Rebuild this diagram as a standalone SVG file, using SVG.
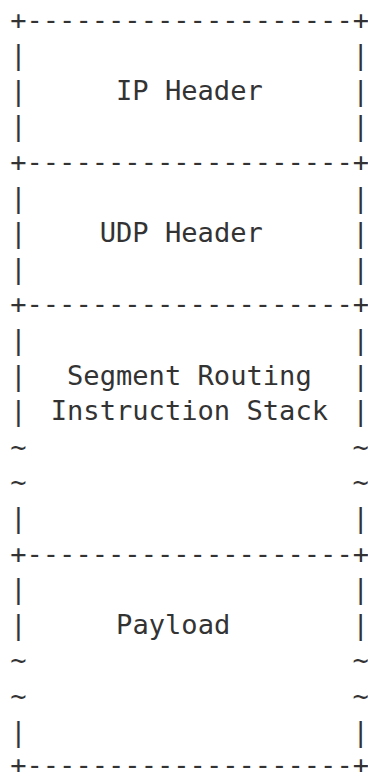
<svg xmlns="http://www.w3.org/2000/svg" width="368" height="772" viewBox="0 0 368 772">
<style>
.t{font-family:"DejaVu Sans Mono","Liberation Mono",monospace;font-size:27.1px;fill:#333}
.s{text-anchor:middle}
</style>
<rect width="368" height="772" fill="#fff"/>
<g id="borders">
<text class="t" x="10.15" y="28.5">+--------------------+</text>
<text class="t" x="10.15" y="170.9">+--------------------+</text>
<text class="t" x="10.15" y="313.3">+--------------------+</text>
<text class="t" x="10.15" y="562.5">+--------------------+</text>
<text class="t" x="10.15" y="774.3">+--------------------+</text>
</g>
<g id="ip-header">
<text class="t s" x="18.3" y="64.1">|</text><text class="t s" x="360.6" y="64.1">|</text>
<text class="t s" x="18.3" y="99.7">|</text><text class="t s" x="360.6" y="99.7">|</text>
<text class="t s" x="18.3" y="135.3">|</text><text class="t s" x="360.6" y="135.3">|</text>
<text class="t s" x="189.4" y="99.7">IP Header</text>
</g>
<g id="udp-header">
<text class="t s" x="18.3" y="206.5">|</text><text class="t s" x="360.6" y="206.5">|</text>
<text class="t s" x="18.3" y="242.1">|</text><text class="t s" x="360.6" y="242.1">|</text>
<text class="t s" x="18.3" y="277.7">|</text><text class="t s" x="360.6" y="277.7">|</text>
<text class="t s" x="181.3" y="242.1">UDP Header</text>
</g>
<g id="sr-instruction-stack">
<text class="t s" x="18.3" y="348.9">|</text><text class="t s" x="360.6" y="348.9">|</text>
<text class="t s" x="18.3" y="384.5">|</text><text class="t s" x="360.6" y="384.5">|</text>
<text class="t s" x="18.3" y="420.1">|</text><text class="t s" x="360.6" y="420.1">|</text>
<text class="t s" x="18.3" y="455.7">~</text><text class="t s" x="360.6" y="455.7">~</text>
<text class="t s" x="18.3" y="491.3">~</text><text class="t s" x="360.6" y="491.3">~</text>
<text class="t s" x="18.3" y="526.9">|</text><text class="t s" x="360.6" y="526.9">|</text>
<text class="t s" x="189.4" y="384.5">Segment Routing</text>
<text class="t s" x="189.4" y="420.1">Instruction Stack</text>
</g>
<g id="payload">
<text class="t s" x="18.3" y="598.1">|</text><text class="t s" x="360.6" y="598.1">|</text>
<text class="t s" x="18.3" y="633.7">|</text><text class="t s" x="360.6" y="633.7">|</text>
<text class="t s" x="18.3" y="669.3">~</text><text class="t s" x="360.6" y="669.3">~</text>
<text class="t s" x="18.3" y="704.9">~</text><text class="t s" x="360.6" y="704.9">~</text>
<text class="t s" x="18.3" y="740.5">|</text><text class="t s" x="360.6" y="740.5">|</text>
<text class="t s" x="173.2" y="633.7">Payload</text>
</g>
<g id="connectors"/>
</svg>
